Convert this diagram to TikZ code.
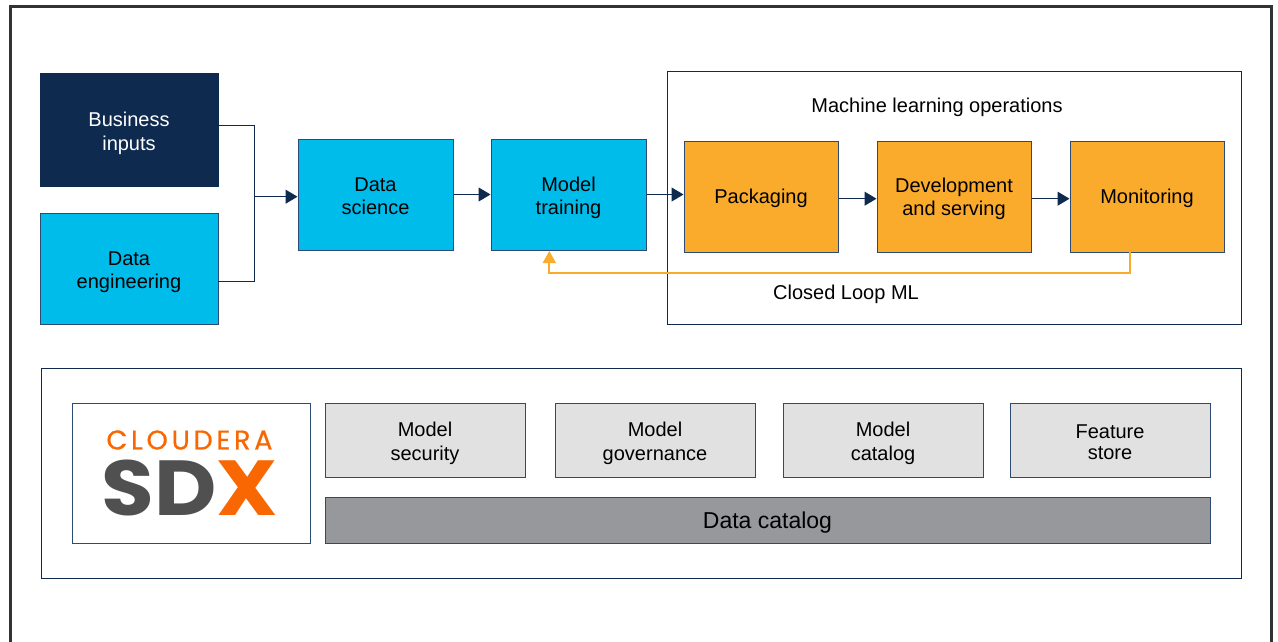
\documentclass[tikz,border=0pt]{standalone}
\usepackage{fontspec}
\setmainfont{Liberation Sans}
\newfontfamily\logofont{Poppins}
\newfontfamily\cloudfont[LetterSpace=14,FakeBold=0.7]{Poppins}
\usetikzlibrary{arrows.meta}
\definecolor{navy}{HTML}{0F2A4F}
\definecolor{edgeblue}{HTML}{2C4A73}
\definecolor{cyanbox}{HTML}{00BCEB}
\definecolor{amberbox}{HTML}{FBAB2C}
\definecolor{greybox}{HTML}{E1E1E1}
\definecolor{darkgrey}{HTML}{97989B}
\definecolor{logoorange}{HTML}{F96702}
\definecolor{logogrey}{HTML}{505050}
\definecolor{framegrey}{HTML}{333333}
\tikzset{
  box/.style={draw=edgeblue,line width=1pt,inner sep=0pt,
    font=\fontsize{20}{23.5}\selectfont,text=black},
  cyanfill/.style={box,fill=cyanbox},
  amberfill/.style={box,fill=amberbox},
  greyfill/.style={box,fill=greybox},
  panel/.style={box,draw=navy,fill=white},
  label/.style={inner sep=0pt,align=center,font=\fontsize{20}{23.5}\selectfont,text=black},
  flow/.style={draw=navy,line width=1pt},
  flowtip/.style={flow,-{Triangle[length=12pt,width=14pt]}},
  loop/.style={draw=amberbox,line width=1.8pt,-{Triangle[length=12pt,width=13pt]}},
}
\newcommand{\boxat}[7]{% style,name,x0,y0,x1,y1,text
  \node[#1,minimum width=#5pt-#3pt,minimum height=#6pt-#4pt] (#2) at ({(#3+#5)/2},{(#4+#6)/2}) {#7};}
% lines of box text, pushed down by half of the extra first-row height
\newcommand{\lns}[2]{\begin{tabular}{@{}c@{}}\rule{0pt}{#1pt}#2\end{tabular}}
\begin{document}
\begin{tikzpicture}[x=1pt,y=-1pt]
\useasboundingbox (0,0) rectangle (1278,642);
\fill[white] (0,0) rectangle (1278,642);
\draw[framegrey,line width=3pt] (10.5,642) -- (10.5,6.5) -- (1271.5,6.5) -- (1271.5,642);

\boxat{panel}{mlops}{667}{72}{1241}{324}{}
\boxat{panel}{sdxpanel}{41}{368}{1241}{578}{}

\boxat{box,fill=navy,draw=navy,text=white}{biz}{40}{74}{218}{186}{\lns{24.5}{Business\\inputs}}
\boxat{cyanfill}{eng}{40}{213}{218}{324}{\lns{24.5}{Data\\engineering}}
\boxat{cyanfill}{sci}{298}{139}{453}{250}{\lns{24.5}{Data\\science}}
\boxat{cyanfill}{train}{491}{139}{646}{250}{\lns{24.5}{Model\\training}}
\boxat{amberfill}{pack}{684}{141}{838}{252}{\lns{20.5}{Packaging}}
\boxat{amberfill,font=\fontsize{20}{23}\selectfont}{dev}{877}{141}{1031}{252}{\lns{22}{Development\\and serving}}
\boxat{amberfill}{mon}{1070}{141}{1224}{252}{\lns{20.5}{Monitoring}}

\node[label] (mltitle) at (937,107.5) {Machine learning operations};
\node[label] (loopl) at (846,294.5) {Closed Loop ML};

\coordinate (bizout) at (218,125.7);
\coordinate (engout) at (218,281.7);
\coordinate (join) at (254,196.7);
\draw[flow] (bizout) -| (join);
\draw[flow] (engout) -| (join);
\draw[flowtip] (join) -- (join -| sci.west);
\draw[flowtip] (sci.east) -- (train.west);
\draw[flowtip] (train.east) -- (train.east -| pack.west);
\draw[flowtip] (pack.east) ++(0,2.2) -- ([yshift=-2.2pt]dev.west);
\draw[flowtip] (dev.east) ++(0,2.2) -- ([yshift=-2.2pt]mon.west);
\coordinate (loopstart) at (1130,252);
\coordinate (loopend) at (549.3,251);
\draw[loop] (loopstart) -- (1130,273.3) -- (549.3,273.3) -- (loopend);

\boxat{box,fill=white}{logo}{72}{403}{310}{543}{}
\node[inner sep=0pt,text=logoorange,font=\cloudfont\fontsize{27}{27}\selectfont] (cloudera) at (189.5,440) {CLOUDERA};
\node[inner sep=0pt,xscale=1.1,font=\logofont\bfseries\fontsize{78}{78}\selectfont] (sdx) at (190,488) {\textcolor{logogrey}{SD}\textcolor{logoorange}{X}};

\boxat{greyfill}{sec}{325}{403}{525}{477}{\lns{24.5}{Model\\security}}
\boxat{greyfill}{gov}{555}{403}{755}{477}{\lns{24.5}{Model\\governance}}
\boxat{greyfill}{cat}{783}{403}{983}{477}{\lns{24.5}{Model\\catalog}}
\boxat{greyfill,font=\fontsize{20}{21}\selectfont}{feat}{1010}{403}{1210}{477}{\lns{23.9}{Feature\\store}}
\boxat{box,fill=darkgrey,font=\fontsize{23}{27}\selectfont}{dcat}{325}{497}{1210}{543}{\lns{25}{Data catalog}}
\end{tikzpicture}
\end{document}
